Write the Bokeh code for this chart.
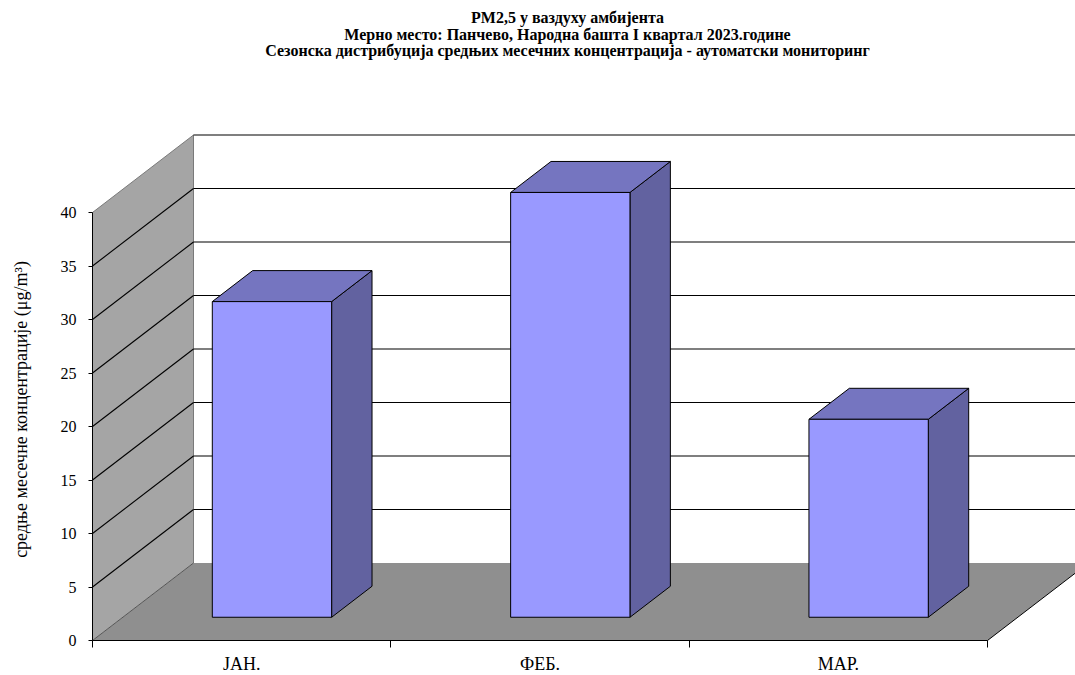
import math
from bokeh.plotting import figure
from bokeh.models import Range1d, LinearAxis, FixedTicker, Label
from bokeh.embed import file_html
from bokeh.resources import INLINE

# ---------------- data ----------------
months = ["ЈАН.", "ФЕБ.", "МАР."]
pm25 = [29.5, 39.7, 18.5]
y_ticks = [0, 5, 10, 15, 20, 25, 30, 35, 40]
title_lines = [
    "PM2,5 у ваздуху амбијента",
    "Мерно место: Панчево, Народна башта I квартал 2023.године",
    "Сезонска дистрибуција средњих месечних концентрација - аутоматски мониторинг",
]
y_label = "средње месечне концентрације (μg/m³)"

# ---------------- geometry / style ----------------
W, H = 1075, 675
ORIGIN_X, ORIGIN_Y = 92, 640   # pixel of the front axis origin
PX_X = 298.33          # px per category
PX_Y = 10.7            # px per value unit
DX = 101 / PX_X        # depth offset (data units)
DY = 77.5 / PX_Y
F0, F1 = 0.3, 0.7      # bar depth (front/back)
HALF = 0.2             # half bar width (category units)
YMAX = 40
FONT = "Liberation Serif"

x_start = -ORIGIN_X / PX_X
x_end = (W - ORIGIN_X) / PX_X
y_start = -(H - ORIGIN_Y) / PX_Y
y_end = ORIGIN_Y / PX_Y


def cx(px):
    return (px - ORIGIN_X) / PX_X


def cy(py):
    return (ORIGIN_Y - py) / PX_Y


p = figure(width=W, height=H, output_backend="svg", toolbar_location=None,
           x_range=Range1d(x_start, x_end), y_range=Range1d(y_start, y_end),
           x_axis_type=None, y_axis_type=None,
           min_border_left=0, min_border_right=0, min_border_top=0,
           min_border_bottom=0)
p.outline_line_color = None
p.background_fill_color = "white"
p.border_fill_color = "white"

n = len(months)

# walls and floor
p.patch([0, n, n + DX, DX], [0, 0, DY, DY], fill_color="#8f8f8f", line_color=None)
p.patch([0, 0, DX, DX], [0, YMAX, YMAX + DY, DY], fill_color="#a5a5a5", line_color=None)
p.line([0, DX, DX, DX], [YMAX, YMAX + DY, YMAX + DY, DY], line_color="#7a7a7a", line_width=1)
p.line([0, DX], [0, DY], line_color="#555555", line_width=1)
p.line([n, n + DX], [0, DY], line_color="black", line_width=1)

# gridlines (back wall + side wall)
grid_vals = [t for t in y_ticks if t > 0]
p.multi_line([[DX, x_end] for t in grid_vals], [[t + DY, t + DY] for t in grid_vals],
             line_color="black", line_width=1.2)
side_vals = [t for t in grid_vals if t < YMAX]
p.multi_line([[0, DX] for t in side_vals], [[t, t + DY] for t in side_vals],
             line_color="black", line_width=1.1)

# bars
fx, fy, tx, ty, sx, sy = [], [], [], [], [], []
for i, v in enumerate(pm25):
    c = i + 0.5
    l0, r0 = c - HALF + F0 * DX, c + HALF + F0 * DX
    l1, r1 = c - HALF + F1 * DX, c + HALF + F1 * DX
    b0, b1 = F0 * DY, F1 * DY
    fx.append([l0, r0, r0, l0]); fy.append([b0, b0, v + b0, v + b0])
    tx.append([l0, r0, r1, l1]); ty.append([v + b0, v + b0, v + b1, v + b1])
    sx.append([r0, r1, r1, r0]); sy.append([b0, b1, v + b1, v + b0])
p.patches(sx, sy, fill_color="#6262a0", line_color="black", line_width=1)
p.patches(tx, ty, fill_color="#7575c0", line_color="black", line_width=1)
p.patches(fx, fy, fill_color="#9999ff", line_color="black", line_width=1)

# axes (fixed at the data origin)
yax = LinearAxis(ticker=FixedTicker(ticks=y_ticks, minor_ticks=[]), bounds=(0, YMAX),
                 fixed_location=0)
yax.axis_line_color = "black"
yax.major_tick_line_color = "black"
yax.major_tick_out = 4
yax.major_tick_in = 0
yax.minor_tick_line_color = None
yax.major_label_standoff = 12
yax.major_label_text_font = FONT
yax.major_label_text_font_size = "16px"
yax.major_label_text_color = "black"
p.add_layout(yax, "left")

xax = LinearAxis(ticker=FixedTicker(ticks=[i + 0.5 for i in range(n)],
                                    minor_ticks=list(range(n + 1))),
                 bounds=(0, n), fixed_location=0)
xax.axis_line_color = "black"
xax.major_tick_line_color = None
xax.major_tick_out = 0
xax.major_tick_in = 0
xax.minor_tick_line_color = "black"
xax.minor_tick_out = 7
xax.minor_tick_in = 0
xax.major_label_standoff = 6
xax.major_label_overrides = {i + 0.5: m for i, m in enumerate(months)}
xax.major_label_text_font = FONT
xax.major_label_text_font_size = "18px"
xax.major_label_text_color = "black"
p.add_layout(xax, "below")

# y label
p.add_layout(Label(x=cx(20), y=cy(409), text=y_label, angle=math.pi / 2,
                   text_align="center", text_baseline="middle",
                   text_font=FONT, text_font_size="18px", text_color="black"))

# title
for k, line in enumerate(title_lines):
    p.add_layout(Label(x=cx(567), y=cy(17 + 16.5 * k), text=line,
                       text_align="center", text_baseline="middle",
                       text_font=FONT, text_font_size="16px",
                       text_font_style="bold", text_color="black"))

open("out.html", "w").write(file_html(p, INLINE))
